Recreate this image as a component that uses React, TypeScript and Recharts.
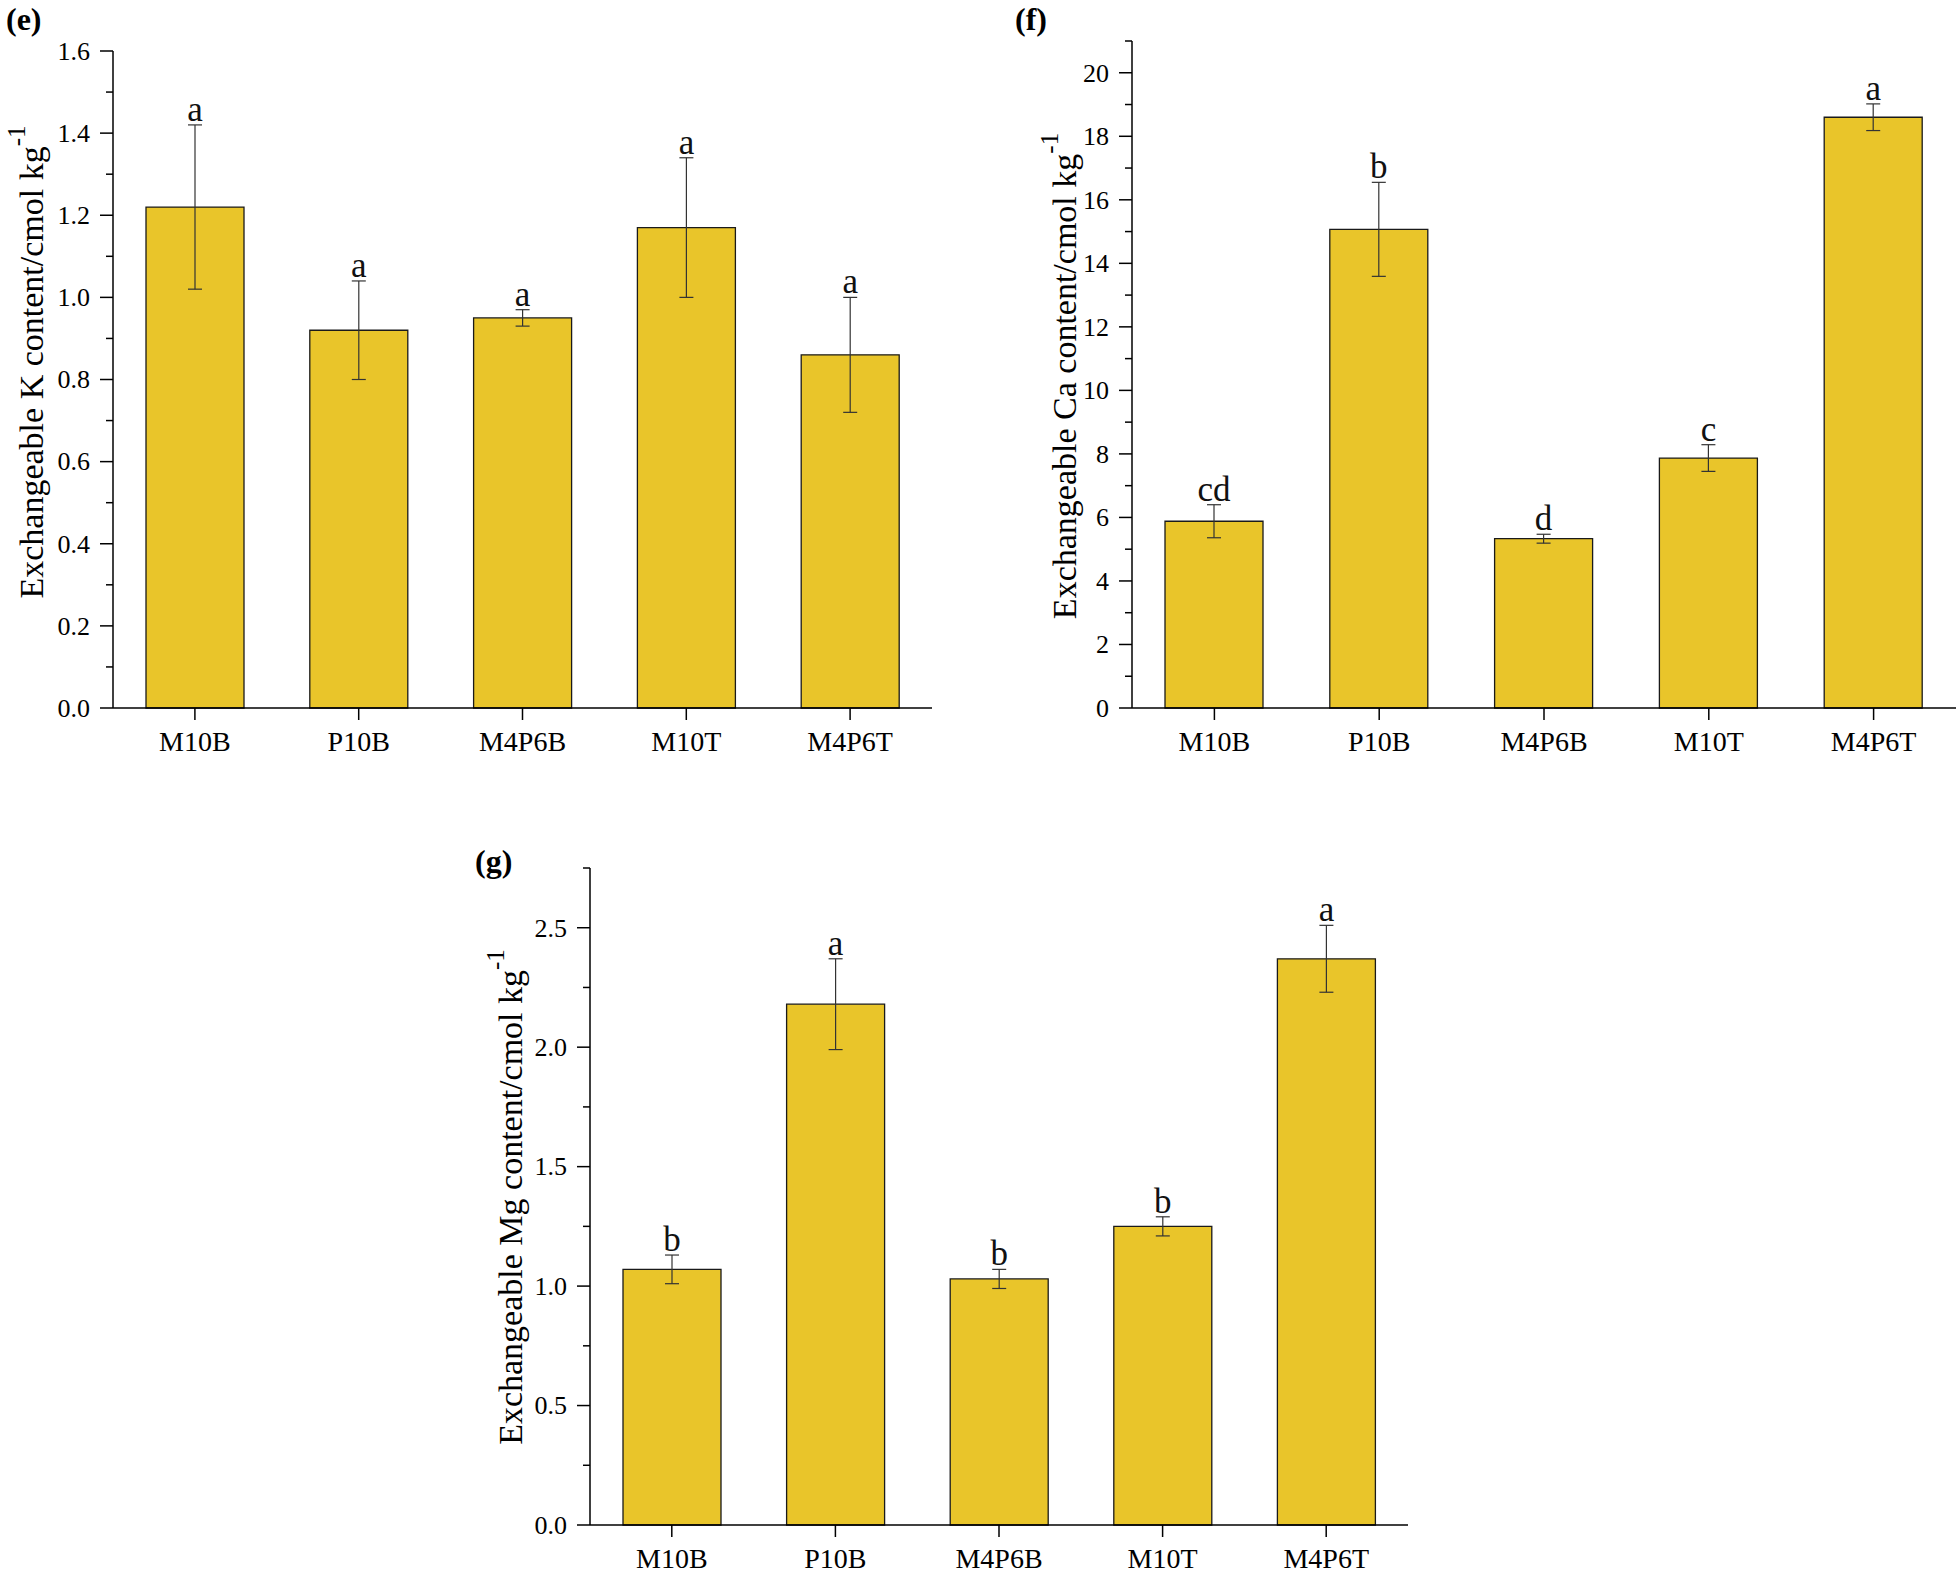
import React from 'react';
import { BarChart, Bar, XAxis, YAxis, ErrorBar, LabelList } from 'recharts';

const FONT = '"Liberation Serif", "Times New Roman", serif';
const BAR_FILL = '#E9C52A';

// treatments shared by all three panels
const categories = ['M10B', 'P10B', 'M4P6B', 'M10T', 'M4P6T'];

// (e) exchangeable K
const kMeans = [1.22, 0.92, 0.95, 1.17, 0.86];
const kErrors = [0.2, 0.12, 0.02, 0.17, 0.14];
const kLetters = ['a', 'a', 'a', 'a', 'a'];
const kMajorTicks = [0, 0.2, 0.4, 0.6, 0.8, 1.0, 1.2, 1.4, 1.6];
const kMinorTicks = [0.1, 0.3, 0.5, 0.7, 0.9, 1.1, 1.3, 1.5];

// (f) exchangeable Ca
const caMeans = [5.88, 15.07, 5.33, 7.87, 18.6];
const caErrors = [0.52, 1.48, 0.14, 0.42, 0.42];
const caLetters = ['cd', 'b', 'd', 'c', 'a'];
const caMajorTicks = [0, 2, 4, 6, 8, 10, 12, 14, 16, 18, 20];
const caMinorTicks = [1, 3, 5, 7, 9, 11, 13, 15, 17, 19, 21];

// (g) exchangeable Mg
const mgMeans = [1.07, 2.18, 1.03, 1.25, 2.37];
const mgErrors = [0.06, 0.19, 0.04, 0.04, 0.14];
const mgLetters = ['b', 'a', 'b', 'b', 'a'];
const mgMajorTicks = [0, 0.5, 1.0, 1.5, 2.0, 2.5];
const mgMinorTicks = [0.25, 0.75, 1.25, 1.75, 2.25, 2.75];

type PanelProps = {
  tag: string;
  element: string;
  means: number[];
  errors: number[];
  letters: string[];
  majorTicks: number[];
  minorTicks: number[];
  yMax: number;
  decimals: number;
  left: number;
  top: number;
  width: number;
  height: number;
  marginTop: number;
  marginRight: number;
  yAxisWidth: number;
  xAxisHeight: number;
  titleX: number;
  titleY: number;
  tagX: number;
  tagY: number;
};

function Panel(p: PanelProps) {
  const data = categories.map((name, i) => ({
    name,
    value: p.means[i],
    err: p.errors[i],
    sig: p.letters[i],
  }));
  const majorSet = new Set(p.majorTicks);
  const ticks = [...p.majorTicks, ...p.minorTicks].sort((a, b) => a - b);

  const renderYTick = (props: any) => {
    const { x, y, payload } = props;
    const major = majorSet.has(payload.value);
    const len = major ? 13 : 7;
    return (
      <g>
        <line x1={x - len} x2={x} y1={y} y2={y} stroke="#000" strokeWidth={1.5} />
        {major && (
          <text x={x - 23} y={y} dy="0.34em" textAnchor="end" fontSize={26} fontFamily={FONT} fill="#000">
            {Number(payload.value).toFixed(p.decimals)}
          </text>
        )}
      </g>
    );
  };

  const renderXTick = (props: any) => {
    const { x, y, payload } = props;
    return (
      <g>
        <line x1={x} x2={x} y1={y} y2={y + 12} stroke="#000" strokeWidth={1.5} />
        <text x={x} y={y + 43} textAnchor="middle" fontSize={28} fontFamily={FONT} fill="#000">
          {payload.value}
        </text>
      </g>
    );
  };

  // significance letters sit just above the upper error cap
  const renderLetter = (props: any) => {
    const { x, y, width, height, index } = props;
    const d = data[index];
    const capY = y - (d.err * height) / d.value;
    return (
      <text x={x + width / 2} y={capY - 4} textAnchor="middle" fontSize={35} fontFamily={FONT} fill="#111">
        {d.sig}
      </text>
    );
  };

  return (
    <div style={{ position: 'absolute', left: p.left, top: p.top, width: p.width, height: p.height }}>
      <BarChart
        width={p.width}
        height={p.height}
        data={data}
        margin={{ top: p.marginTop, right: p.marginRight, left: 0, bottom: 0 }}
      >
        <XAxis
          dataKey="name"
          height={p.xAxisHeight}
          axisLine={{ stroke: '#000', strokeWidth: 1.5 }}
          tickLine={false}
          tickSize={0}
          tickMargin={0}
          interval={0}
          tick={renderXTick}
        />
        <YAxis
          type="number"
          width={p.yAxisWidth}
          domain={[0, p.yMax]}
          ticks={ticks}
          interval={0}
          axisLine={{ stroke: '#000', strokeWidth: 1.5 }}
          tickLine={false}
          tickSize={0}
          tickMargin={0}
          tick={renderYTick}
        />
        <Bar dataKey="value" fill={BAR_FILL} stroke="#1a1a1a" strokeWidth={1.3} barSize={98} isAnimationActive={false}>
          <ErrorBar dataKey="err" width={7} stroke="#333" strokeWidth={1.2} />
          <LabelList dataKey="sig" content={renderLetter} />
        </Bar>
      </BarChart>
      <svg
        width={p.width}
        height={p.height}
        style={{ position: 'absolute', left: 0, top: 0, pointerEvents: 'none' }}
      >
        <text x={p.tagX} y={p.tagY} fontSize={32} fontWeight="bold" fontFamily={FONT} fill="#000">
          {p.tag}
        </text>
        <text
          x={p.titleX}
          y={p.titleY}
          transform={`rotate(-90, ${p.titleX}, ${p.titleY})`}
          textAnchor="middle"
          fontSize={34}
          fontFamily={FONT}
          fill="#000"
        >
          {`Exchangeable ${p.element} content/cmol kg`}
          <tspan dy={-18} fontSize={25}>-1</tspan>
        </text>
      </svg>
    </div>
  );
}

export default function App() {
  return (
    <div style={{ position: 'absolute', left: 0, top: 0, width: 1960, height: 1573, background: '#fff' }}>
      <Panel
        tag="(e)"
        element="K"
        means={kMeans}
        errors={kErrors}
        letters={kLetters}
        majorTicks={kMajorTicks}
        minorTicks={kMinorTicks}
        yMax={1.6}
        decimals={1}
        left={0}
        top={0}
        width={960}
        height={780}
        marginTop={51}
        marginRight={28}
        yAxisWidth={113}
        xAxisHeight={72}
        titleX={43}
        titleY={362}
        tagX={6}
        tagY={30}
      />
      <Panel
        tag="(f)"
        element="Ca"
        means={caMeans}
        errors={caErrors}
        letters={caLetters}
        majorTicks={caMajorTicks}
        minorTicks={caMinorTicks}
        yMax={21}
        decimals={0}
        left={960}
        top={0}
        width={1000}
        height={780}
        marginTop={41}
        marginRight={4}
        yAxisWidth={172}
        xAxisHeight={72}
        titleX={116}
        titleY={376}
        tagX={55}
        tagY={30}
      />
      <Panel
        tag="(g)"
        element="Mg"
        means={mgMeans}
        errors={mgErrors}
        letters={mgLetters}
        majorTicks={mgMajorTicks}
        minorTicks={mgMinorTicks}
        yMax={2.75}
        decimals={1}
        left={440}
        top={800}
        width={1000}
        height={773}
        marginTop={68}
        marginRight={32}
        yAxisWidth={150}
        xAxisHeight={48}
        titleX={82}
        titleY={397}
        tagX={35}
        tagY={72}
      />
    </div>
  );
}
